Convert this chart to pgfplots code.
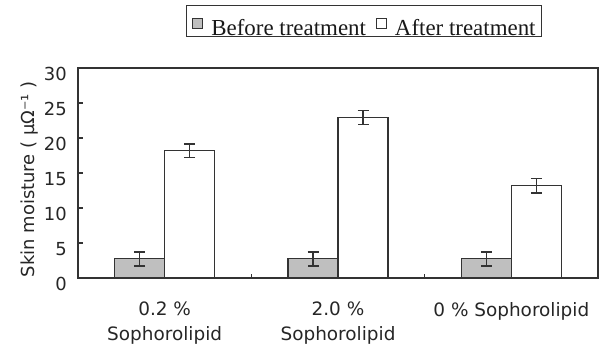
\documentclass[border=0pt]{standalone}
\usepackage{pgfplots}
\pgfplotsset{compat=1.18}
\usepackage{fontspec}
\setmainfont{DejaVu Sans}
\newfontfamily\legfont{Liberation Serif}
\definecolor{edge}{gray}{0.2}
\definecolor{barfill}{gray}{0.75}
\begin{document}
\begin{tikzpicture}
\path[use as bounding box] (-78bp,-66bp) rectangle (529bp,278bp);
\begin{axis}[
  at={(0,0)}, anchor=south west,
  width=520bp, height=210bp, scale only axis,
  ybar=0pt, bar width=50bp,
  xmin=-0.5, xmax=2.5, ymin=0, ymax=30,
  axis line style={draw=edge, line width=1.2bp},
  ytick={0,5,...,30},
  ytick pos=left, xtick pos=bottom,
  tick align=inside,
  major tick length=5bp,
  ytick style={draw=edge, line width=1.2bp},
  xtick={0,1,2},
  xtick style={draw=none},
  xticklabels={{0.2 \%\\Sophorolipid},{2.0 \%\\Sophorolipid},{0 \% Sophorolipid}},
  xticklabel style={align=center, font=\fontsize{18.5}{25}\selectfont, inner sep=0pt, yshift=-24bp, text=black!85},
  extra x ticks={0.5,1.5},
  extra x tick labels={},
  extra x tick style={xtick style={draw=edge, line width=1.2bp}, major tick length=4bp},
  /pgf/number format/assume math mode=true,
  yticklabel style={font=\fontsize{18}{20}\selectfont, inner sep=0pt, anchor=north east, xshift=-11bp, yshift=1bp, text=black!85},
  ylabel={Skin moisture ( μΩ⁻¹ )},
  ylabel style={at={(axis description cs:-0.094,0.47)}, anchor=center, font=\fontsize{18}{20}\selectfont, text=black!85},
  legend columns=2,
  legend style={at={(0.55,1)}, anchor=south, yshift=31bp,
    draw=edge, line width=1.2bp, inner xsep=6bp, inner ysep=1bp,
    font=\legfont\fontsize{23}{25}\selectfont, text=black!90,
    nodes={inner sep=0pt, text depth=0pt},
    /tikz/column sep=8bp,
    /tikz/every even column/.append style={column sep=10bp}},
  error bars/error bar style={line width=1.4bp, draw=edge},
  error bars/error mark options={line width=1.5bp, draw=edge, mark size=5.5bp, rotate=90},
]
\addplot[fill=barfill, draw=edge, line width=1.2bp,
  legend image code/.code={\path[draw=none, fill=none] (0bp,-4bp) rectangle (0bp,21bp);\draw[fill=barfill, draw=edge, line width=1bp, solid] (0bp,-1bp) rectangle (10bp,9bp);},
  error bars/.cd, y dir=both, y explicit]
  coordinates {(0,2.75) +- (0,1.0) (1,2.75) +- (0,1.0) (2,2.75) +- (0,1.0)};
\addlegendentry{Before treatment}
\addplot[fill=white, draw=edge, line width=1.2bp,
  legend image code/.code={\path[draw=none, fill=none] (0bp,-4bp) rectangle (0bp,21bp);\draw[fill=white, draw=edge, line width=1bp, solid] (0bp,-1bp) rectangle (10bp,9bp);},
  error bars/.cd, y dir=both, y explicit]
  coordinates {(0,18.2) +- (0,0.95) (1,22.9) +- (0,1.0) (2,13.2) +- (0,1.05)};
\addlegendentry{After treatment}
\end{axis}
\end{tikzpicture}
\end{document}
